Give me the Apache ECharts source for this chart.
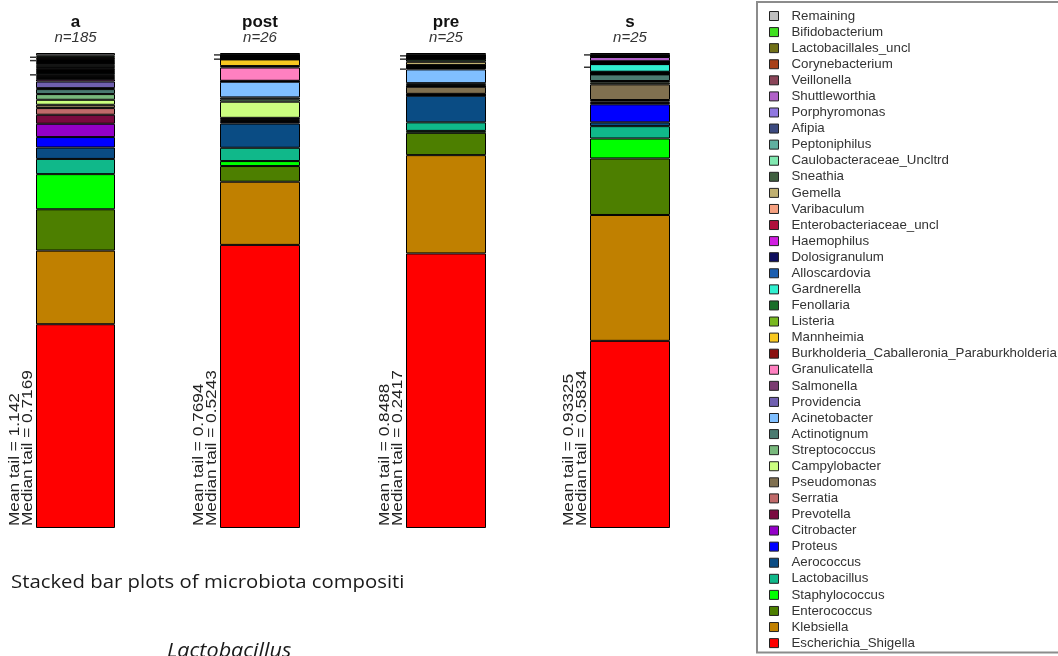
<!DOCTYPE html>
<html>
<head>
<meta charset="utf-8">
<script src="https://cdn.jsdelivr.net/npm/echarts@6/dist/echarts.min.js"></script>
<style>
html,body{margin:0;padding:0;background:#fff;}
#chart{width:1058px;height:656px;}
</style>
</head>
<body>
<div id="chart"></div>
<script>
// ---- data ----
const groups = ['a', 'post', 'pre', 's'];
const groupN = [185, 26, 25, 25];
const meanTail = ['1.142', '0.7694', '0.8488', '0.93325'];
const medianTail = ['0.7169', '0.5243', '0.2417', '0.5834'];
const captionText = 'Stacked bar plots of microbiota compositi';
const subCaptionText = 'Lactobacillus';

// taxa, bottom of stack first
const taxa = [
  'Escherichia_Shigella', 'Klebsiella', 'Enterococcus', 'Staphylococcus', 'Lactobacillus',
  'Aerococcus', 'Proteus', 'Citrobacter', 'Prevotella', 'Serratia',
  'Pseudomonas', 'Campylobacter', 'Streptococcus', 'Actinotignum', 'Acinetobacter',
  'Providencia', 'Salmonella', 'Granulicatella', 'Burkholderia_Caballeronia_Paraburkholderia', 'Mannheimia',
  'Listeria', 'Fenollaria', 'Gardnerella', 'Alloscardovia', 'Dolosigranulum',
  'Haemophilus', 'Enterobacteriaceae_uncl', 'Varibaculum', 'Gemella', 'Sneathia',
  'Caulobacteraceae_Uncltrd', 'Peptoniphilus', 'Afipia', 'Porphyromonas', 'Shuttleworthia',
  'Veillonella', 'Corynebacterium', 'Lactobacillales_uncl', 'Bifidobacterium', 'Remaining'
];
const taxaColors = [
  '#ff0000', '#c08000', '#4d7f00', '#00ff00', '#10b88a',
  '#0a4c84', '#0000ff', '#9400c8', '#7a0a40', '#c06a6a',
  '#807050', '#ccff80', '#78b87c', '#4a7a70', '#80bfff',
  '#7060b0', '#7a3a70', '#ff80c0', '#8b1010', '#f8c820',
  '#78b820', '#1a6e2a', '#30f0d0', '#1c5fb0', '#0e0e5e',
  '#d01ee0', '#b0103c', '#f5a080', '#c0b070', '#3f5f3f',
  '#80e8b0', '#60b0a0', '#3c4a80', '#9078e0', '#b060c8',
  '#8a4458', '#a84018', '#707018', '#40e020', '#c0c0c0'
];

// relative abundance (%) per group, same order as taxa
const valuesA = [42.9, 15.5, 8.7, 7.4, 3.2, 2.4, 2.2, 2.8, 1.9, 1.4,
  0.7, 1.05, 1.2, 1.05, 0.2, 1.4, 0.5, 0.2, 0.2, 0.2,
  0.2, 0.2, 0.3, 0.2, 0.2, 0.2, 0.3, 0.2, 0.2, 0.3,
  0.2, 0.3, 0.2, 0.2, 0.2, 0.2, 0.3, 0.2, 0.3, 0.5];
const valuesPost = [59.6, 13.3, 3.3, 1.05, 2.8, 5.1, 0.3, 0.2, 0.2, 0.2,
  0.3, 3.4, 0.5, 0.4, 3.3, 0.1, 0.1, 2.8, 0.3, 1.4,
  0.05, 0.05, 0.05, 0.05, 0.05, 0.05, 0.05, 0.05, 0.05, 0.05,
  0.05, 0.05, 0.05, 0.05, 0.05, 0.05, 0.05, 0.05, 0.05, 0.4];
const valuesPre = [57.8, 20.7, 4.7, 0.4, 1.8, 5.6, 0.1, 0.1, 0.1, 0.1,
  1.5, 0.05, 0.3, 0.4, 2.9, 0.3, 0.05, 0.05, 0.05, 0.05,
  0.05, 0.05, 0.05, 0.05, 0.05, 0.05, 0.05, 0.05, 0.7, 0.5,
  0.1, 0.1, 0.1, 0.1, 0.1, 0.1, 0.1, 0.1, 0.1, 0.45];
const valuesS = [39.4, 26.5, 11.9, 4.2, 2.6, 0.8, 3.8, 0.3, 0.3, 0.3,
  3.3, 0.35, 0.35, 1.4, 0.07, 0.07, 0.07, 0.07, 0.07, 0.07,
  0.07, 0.07, 1.6, 0.05, 0.05, 0.05, 0.05, 0.05, 0.05, 0.05,
  0.05, 0.05, 0.05, 0.1, 0.9, 0.1, 0.1, 0.1, 0.1, 0.44];
const groupValues = [valuesA, valuesPost, valuesPre, valuesS];

// small tick marks left of each bar (cumulative %)
const ticksA = [99.1, 98.4, 95.4];
const ticksPost = [99.6, 98.7];
const ticksPre = [99.4, 98.7, 96.6];
const ticksS = [99.6, 97.0];
const groupTicks = [ticksA, ticksPost, ticksPre, ticksS];

// ---- layout ----
const gridLefts = [36, 220, 406, 590];
const gridWidths = [79, 80, 80, 80];
const gridTop = 53, gridHeight = 475;

const chart = echarts.init(document.getElementById('chart'), null, {renderer: 'canvas'});

const grids = [], xAxes = [], yAxes = [], series = [], graphics = [];
groups.forEach((g, i) => {
  grids.push({left: gridLefts[i], width: gridWidths[i], top: gridTop, height: gridHeight});
  xAxes.push({
    type: 'category', gridIndex: i, data: [g], position: 'top',
    axisLine: {show: false}, axisTick: {show: false}, splitLine: {show: false},
    axisLabel: {
      margin: 8, interval: 0,
      formatter: () => '{t|' + g + '}\n{n|n=' + groupN[i] + '}',
      rich: {
        t: {fontFamily: 'Liberation Sans', fontWeight: 'bold', fontSize: 17, color: '#111', lineHeight: 15},
        n: {fontFamily: 'Liberation Sans', fontStyle: 'italic', fontSize: 15, color: '#333', lineHeight: 15}
      }
    }
  });
  yAxes.push({type: 'value', gridIndex: i, min: 0, max: 100, show: false});
  taxa.forEach((t, j) => {
    series.push({
      type: 'bar', name: t, xAxisIndex: i, yAxisIndex: i, stack: 'g' + i,
      barWidth: '100%', data: [groupValues[i][j]],
      itemStyle: {color: taxaColors[j], borderColor: '#000', borderWidth: 1},
      emphasis: {disabled: true}, silent: true
    });
  });
  series.push({
    type: 'scatter', name: 'ticks' + i, xAxisIndex: i, yAxisIndex: i,
    data: groupTicks[i].map(v => [g, v]),
    symbol: 'rect', symbolSize: [6, 1.5], symbolOffset: [-gridWidths[i] / 2 - 3, 0],
    itemStyle: {color: '#000'}, silent: true, z: 5
  });
  graphics.push({
    type: 'text', x: gridLefts[i] - 2, y: 526, rotation: Math.PI / 2, scaleX: 1.15, scaleY: 1,
    style: {
      text: 'Mean tail = ' + meanTail[i] + '\nMedian tail = ' + medianTail[i],
      fontFamily: 'Liberation Sans', fontSize: 15, lineHeight: 12.5,
      fill: '#222', align: 'left', verticalAlign: 'bottom'
    },
    z: 10
  });
});

graphics.push({
  type: 'text', x: 11, y: 583, scaleX: 1.07, scaleY: 1,
  style: {text: captionText, fontFamily: 'Open Sans', fontSize: 19, fill: '#1a1a1a',
    align: 'left', verticalAlign: 'middle'}
});
graphics.push({
  type: 'text', x: 167, y: 641, scaleX: 1.08, scaleY: 1,
  style: {text: subCaptionText, fontFamily: 'Open Sans', fontStyle: 'italic', fontSize: 20, fill: '#1a1a1a',
    align: 'left', verticalAlign: 'top'}
});

const option = {
  animation: false,
  backgroundColor: '#fff',
  grid: grids,
  xAxis: xAxes,
  yAxis: yAxes,
  legend: {
    orient: 'vertical', left: 757, top: 2,
    padding: [7.5, 10, 3, 12],
    borderColor: '#8c8c8c', borderWidth: 2,
    data: taxa.slice().reverse(),
    icon: 'rect', itemWidth: 9, itemHeight: 9, itemGap: 3.08,
    selectedMode: false,
    itemStyle: {borderColor: '#222', borderWidth: 1},
    textStyle: {fontFamily: 'Liberation Sans', fontSize: 13.3, color: '#333', lineHeight: 13, padding: [0, 0, 0, 8]}
  },
  graphic: graphics,
  series: series
};
chart.setOption(option);
</script>
</body>
</html>
